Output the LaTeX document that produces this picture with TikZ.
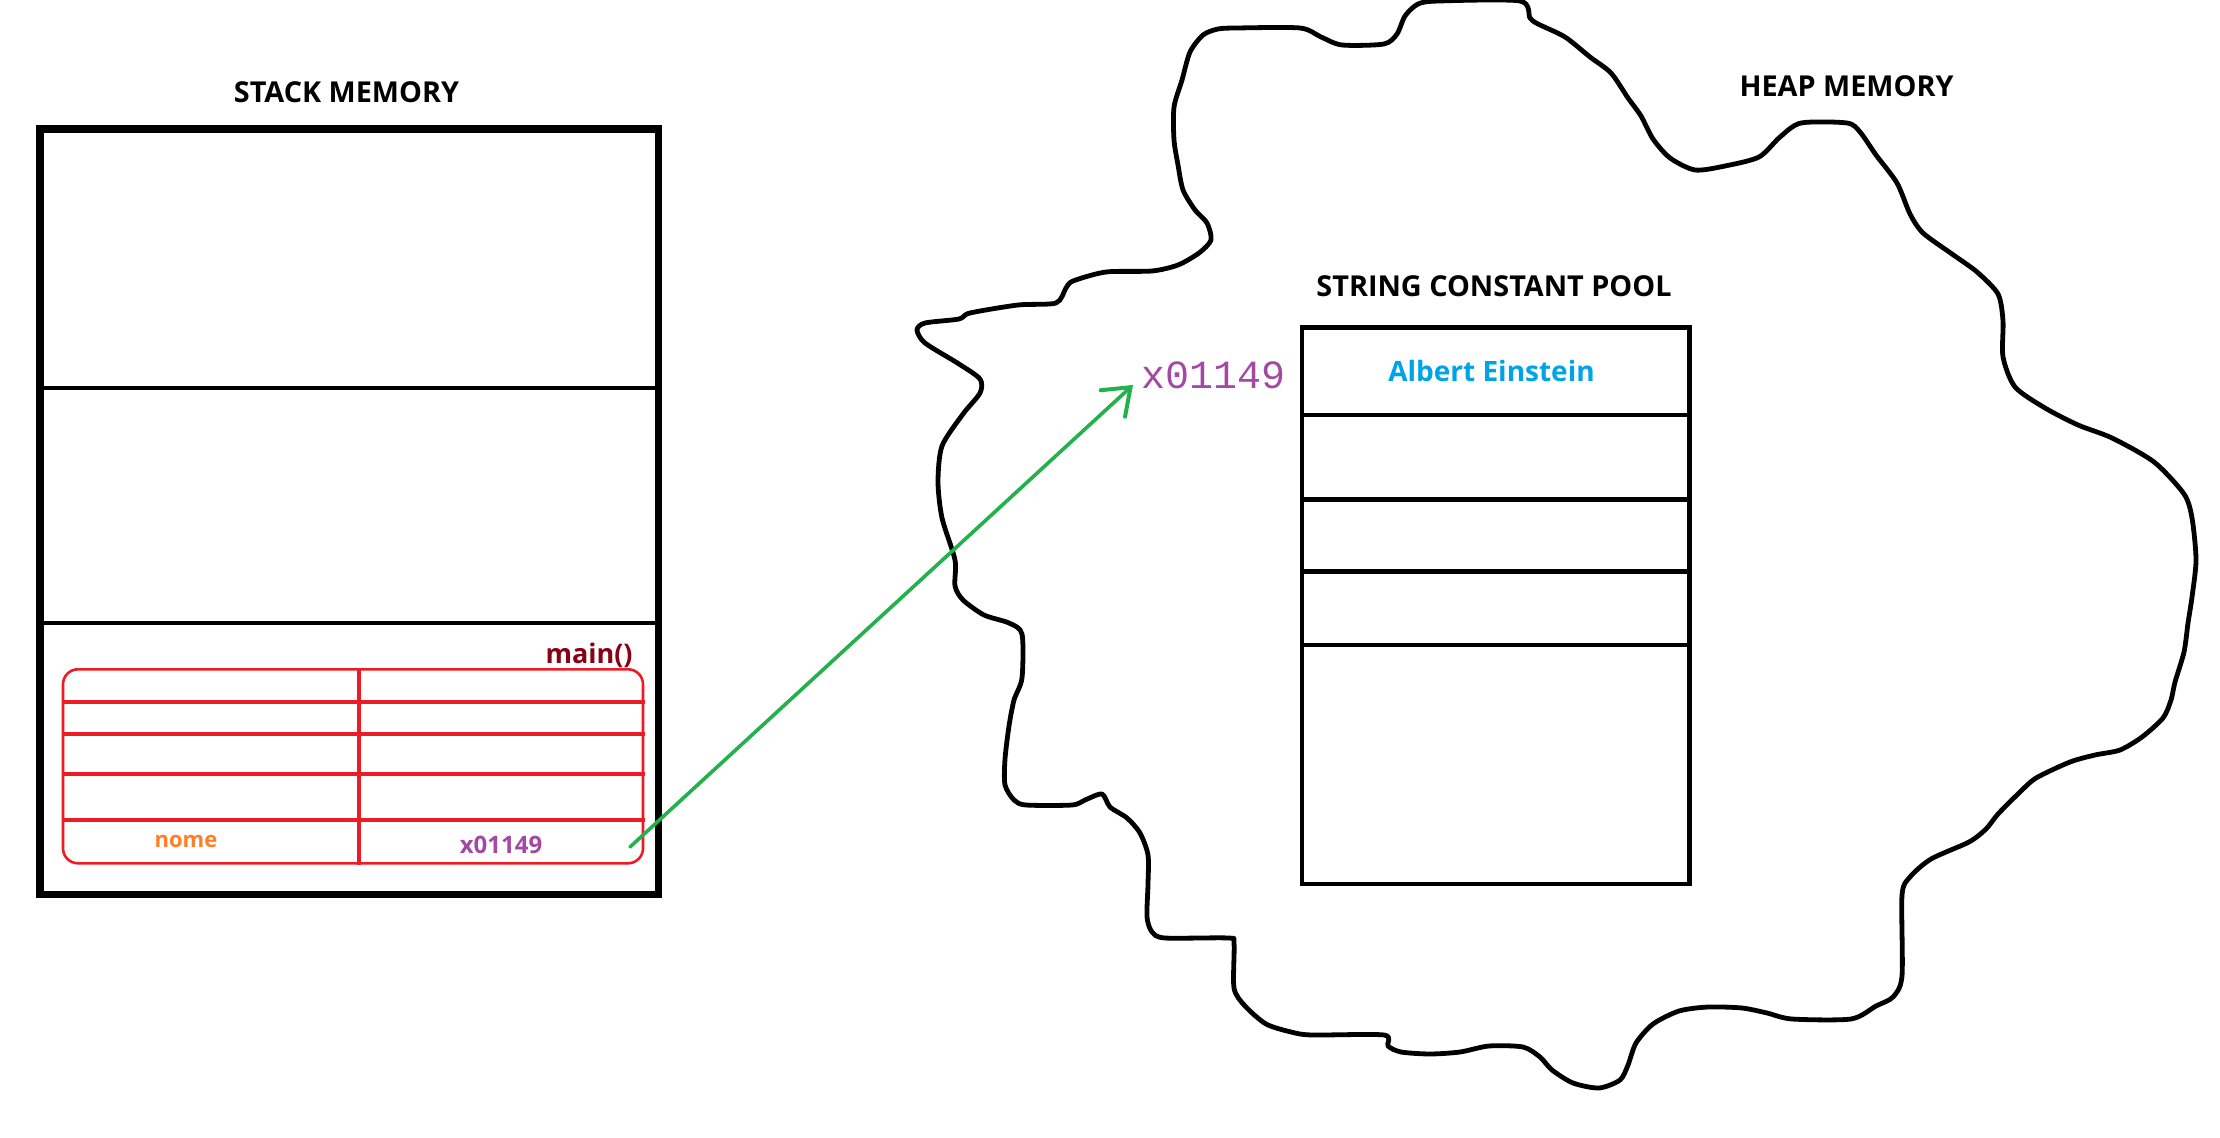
\documentclass[tikz,border=0pt]{standalone}
\usepackage{fontspec}
\setmainfont{Open Sans}
\newfontfamily\handfont{Liberation Mono}
\usetikzlibrary{arrows.meta}
\definecolor{mainred}{HTML}{880015}
\definecolor{framered}{HTML}{ED1C24}
\definecolor{nomeorange}{HTML}{FF7F27}
\definecolor{addrpurple}{HTML}{A349A4}
\definecolor{poolblue}{HTML}{00A2E8}
\definecolor{arrowgreen}{HTML}{22B14C}
\tikzset{
  hdr/.style={inner sep=0pt, anchor=base, font=\fontsize{14.4}{16}\selectfont\bfseries},
  stackframe/.style={draw=black, line width=3.75pt},
  stackdiv/.style={draw=black, line width=2.25pt},
  poolframe/.style={draw=black, line width=2.25pt},
  framebox/.style={draw=framered, line width=1.3pt, rounded corners=7.5pt},
  frameline/.style={draw=framered, line width=2pt},
  cloudline/.style={draw=black, line width=2.4pt, line join=round},
  refarrow/.style={draw=arrowgreen, line width=1.8pt, line cap=round,
    -{Straight Barb[length=12pt,width=18pt,line width=2pt,line cap=round]}},
}
\begin{document}
\begin{tikzpicture}[x=0.5pt,y=-0.5pt]
\useasboundingbox (0,0) rectangle (2220,1138);

% ---------- heap cloud ----------
\draw[cloudline] plot[smooth cycle, tension=0.45] coordinates {
(917,330) (925,323) (959,319) (970,313) (1018,305) (1056,303) (1066,288)
(1073,281) (1106,272) (1152,271) (1178,265) (1199,253) (1211,240) (1207,223)
(1195,210) (1183,190) (1178,165) (1174,140) (1174,107) (1182,80) (1190,52)
(1203,35) (1218,29) (1237,28) (1300,28) (1321,37) (1342,45) (1384,44)
(1397,34) (1405,16) (1418,4) (1439,1) (1520,1) (1530,18) (1538,24)
(1565,37) (1590,57) (1611,73) (1628,98) (1641,116) (1653,139) (1670,158)
(1695,170) (1725,166) (1759,157) (1780,137) (1801,123) (1847,123) (1860,132)
(1876,155) (1897,183) (1910,214) (1923,233) (1952,254) (1977,272) (1998,294)
(2003,321) (2003,357) (2015,387) (2045,408) (2078,425) (2112,438) (2154,462)
(2184,494) (2192,518) (2196,560) (2192,597) (2188,623) (2184,652) (2175,682)
(2171,700) (2163,718) (2142,737) (2120,750) (2095,755) (2070,762) (2036,778)
(2020,792) (1998,814) (1986,829) (1969,842) (1931,859) (1910,877) (1902,895)
(1902,976) (1893,997) (1876,1006) (1851,1019) (1792,1019) (1767,1013)
(1742,1008) (1708,1007) (1679,1011) (1653,1024) (1636,1043) (1628,1065)
(1620,1080) (1599,1088) (1573,1083) (1552,1070) (1540,1057) (1523,1047)
(1489,1046) (1460,1052) (1430,1054) (1401,1052) (1388,1046) (1384,1035)
(1312,1035) (1291,1032) (1266,1024) (1245,1006) (1234,988) (1234,943)
(1228,938) (1165,938) (1152,932) (1147,917) (1148,884) (1148,855) (1140,833)
(1127,818) (1110,807) (1102,794) (1085,800) (1072,805) (1026,805) (1014,800)
(1005,785) (1005,759) (1009,726) (1014,700) (1022,678) (1022,634) (1009,623)
(984,615) (963,600) (955,586) (955,560) (942,518) (938,482) (942,446)
(963,414) (980,393) (980,379) (959,364) (925,343)
};

% ---------- titles ----------
\node[hdr] (stacktitle) at (346.5,102.4) {STACK MEMORY};
\node[hdr] (heaptitle) at (1846.5,97) {HEAP MEMORY};
\node[hdr] (pooltitle) at (1494,296.7) {STRING CONSTANT POOL};

% ---------- stack ----------
\draw[stackframe] (40,129) rectangle (658.5,894.5);
\draw[stackdiv] (40,388) -- (658.5,388);
\draw[stackdiv] (40,623) -- (658.5,623);

\node[inner sep=0pt, anchor=base east, text=mainred,
      font=\fontsize{13.5}{16}\selectfont\bfseries] (mainlbl) at (633,663) {main()};

\draw[framebox] (63,669.3) rectangle (643,863.3);
\foreach \yy in {702,734.3,774,820.3}{
  \draw[frameline] (63,\yy) -- (645,\yy);
}
\draw[frameline] (358.5,668) -- (358.5,865);

\node[inner sep=0pt, anchor=base, text=nomeorange,
      font=\fontsize{11}{13}\selectfont\bfseries] (nome) at (186,847) {nome};
\node[inner sep=0pt, anchor=base, text=addrpurple,
      font=\fontsize{12}{14}\selectfont\bfseries] (addr) at (501,853) {x01149};

% ---------- string constant pool ----------
\draw[poolframe] (1302,327.6) rectangle (1689.5,884);
\foreach \yy in {414.8,499.4,571.3,645.2}{
  \draw[poolframe] (1300,\yy) -- (1690,\yy);
}
\node[inner sep=0pt, anchor=base, text=poolblue,
      font=\fontsize{14}{16}\selectfont\bfseries] (einstein) at (1491.5,382) {Albert Einstein};

% ---------- handwritten address + arrow ----------
\node[inner sep=0pt, anchor=base west, text=addrpurple,
      font=\handfont\fontsize{20}{22}\selectfont] (hand) at (1141,389) {x01149};
\coordinate (arrowstart) at (630,847);
\coordinate (arrowtip) at (1133,385);
\draw[refarrow] (arrowstart) -- (arrowtip);
\end{tikzpicture}
\end{document}
